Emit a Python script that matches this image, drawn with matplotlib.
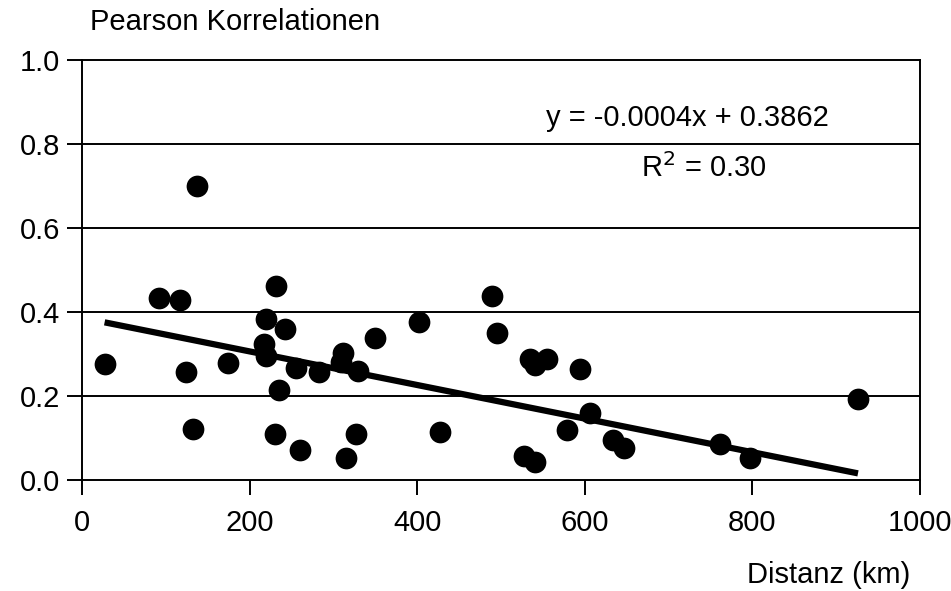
import numpy as np
import matplotlib
matplotlib.use('Agg')
from matplotlib import pyplot as plt

plt.rcParams['font.family'] = ['Liberation Sans', 'DejaVu Sans']

# distance (km) and Pearson correlation
distanz = [27, 92, 117, 137, 124, 132, 174, 232, 220, 242, 217, 220, 235, 230,
           255, 260, 283, 311, 309, 329, 315, 327, 350, 402, 427, 489, 495,
           535, 555, 541, 594, 606, 579, 634, 647, 527, 541, 926, 761, 797]
korrelation = [0.276, 0.433, 0.429, 0.70, 0.257, 0.121, 0.279, 0.462, 0.383, 0.36,
               0.324, 0.296, 0.214, 0.110, 0.267, 0.071, 0.257, 0.302, 0.281, 0.26,
               0.052, 0.110, 0.338, 0.376, 0.114, 0.438, 0.35, 0.288, 0.288, 0.274,
               0.264, 0.16, 0.119, 0.095, 0.076, 0.057, 0.043, 0.193, 0.086, 0.052]

slope = -0.0004
intercept = 0.3862
line_x = [27, 926]
x_ticks = [0, 200, 400, 600, 800, 1000]
y_ticks = [0.0, 0.2, 0.4, 0.6, 0.8, 1.0]

fs = 21

fig = plt.figure(figsize=(9.51, 5.91), dpi=100)
ax = fig.add_axes([0.0862, 0.1878, 0.8812, 0.7107])

for yv in y_ticks[1:-1]:
    ax.axhline(yv, color='black', lw=1.4, zorder=1)

ax.scatter(distanz, korrelation, s=245, color='black', zorder=3, linewidths=0)
lx = np.array(line_x)
ax.plot(lx, slope * lx + intercept, color='black', lw=4.5, zorder=2,
        solid_capstyle='butt')

ax.set_xlim(0, 1000)
ax.set_ylim(0, 1.0)
ax.set_xticks(x_ticks)
ax.set_yticks(y_ticks)
ax.set_xticklabels([str(t) for t in x_ticks])
ax.set_yticklabels(['%.1f' % t for t in y_ticks])
ax.tick_params(axis='both', direction='out', length=11, width=1.4,
               labelsize=fs, colors='black')
ax.tick_params(axis='x', pad=10)
ax.tick_params(axis='y', pad=5)
for sp in ax.spines.values():
    sp.set_linewidth(1.4)
    sp.set_color('black')

ax.text(723, 0.862, 'y = -0.0004x + 0.3862', fontsize=fs, ha='center', va='center')
ax.text(742, 0.743, 'R$^2$ = 0.30', fontsize=fs, ha='center', va='center')

fig.text(90 / 951, 1 - 22 / 591, 'Pearson Korrelationen', fontsize=fs,
         ha='left', va='center')
fig.text(910 / 951, 1 - 575 / 591, 'Distanz (km)', fontsize=fs,
         ha='right', va='center')

plt.savefig('out.png', dpi=100)
plt.close(fig)
